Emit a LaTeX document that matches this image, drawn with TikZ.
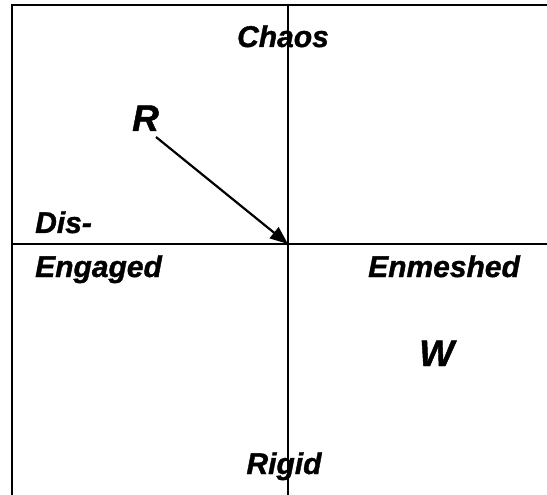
\documentclass[tikz,border=0pt]{standalone}
\usepackage{fontspec}
\setmainfont{Liberation Sans}
\newfontfamily\heavyfont[BoldItalicFeatures={FakeBold=1.2}]{Liberation Sans}
\usetikzlibrary{arrows.meta}
\begin{document}
\begin{tikzpicture}[x=1pt,y=-1pt,
  axis/.style={line width=2.1pt},
  lab/.style={inner sep=0pt,font=\heavyfont\fontsize{30}{36}\selectfont\bfseries\itshape},
  big/.style={inner sep=0pt,font=\heavyfont\fontsize{37}{44}\selectfont\bfseries\itshape}]
\useasboundingbox (0,0) rectangle (547,495);
% frame
\draw[axis] (12,495) -- (12,5) -- (547,5);
\coordinate (O) at (288,244);
\coordinate (top) at (288,5);
\coordinate (bot) at (288,495);
\coordinate (lft) at (12,244);
\coordinate (rgt) at (547,244);
\draw[axis] (top) -- (bot);
\draw[axis] (lft) -- (rgt);
% labels
\node[lab,anchor=base] (chaos) at (283,47) {Chaos};
\node[lab,anchor=base] (rigid) at (284,474) {Rigid};
\node[lab,anchor=base west] (dis) at (35,233) {Dis-};
\node[lab,anchor=base west] (eng) at (35,277) {Engaged};
\node[lab,anchor=base west] (enm) at (368,277) {Enmeshed};
\node[big,anchor=base west] (R) at (132,131) {R};
\node[big,anchor=base west] (W) at (419,366) {W};
% arrow
\coordinate (s) at (156,137);
\draw[line width=2.2pt,-{Triangle[length=18pt,width=14pt]}] (s) -- (O);
\end{tikzpicture}
\end{document}
